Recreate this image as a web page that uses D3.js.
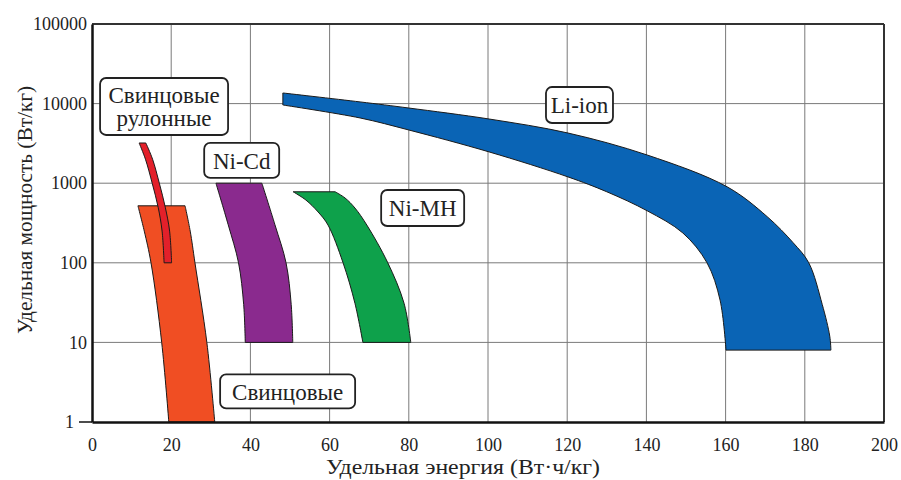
<!DOCTYPE html>
<html>
<head>
<meta charset="utf-8">
<script src="https://cdn.jsdelivr.net/npm/d3@7"></script>
<style>
  html, body { margin: 0; padding: 0; background: #fff; }
  svg text { font-family: "Liberation Serif", "Times New Roman", Tinos, Times, "DejaVu Serif", "Noto Serif", serif; fill: #222; }
</style>
</head>
<body>
<svg id="chart" width="901" height="480"></svg>
<script>
// Ragone plot: energy (Wh/kg) vs power (W/kg), edges of each band as [energy, power]

const xTicks = [0, 20, 40, 60, 80, 100, 120, 140, 160, 180, 200];
const yTicks = [1, 10, 100, 1000, 10000, 100000];

const leadLeft = [[11.6, 520], [13.2, 250], [14.9, 100], [17.6, 10], [19.4, 1]];
const leadRight = [[23.5, 520], [24.8, 250], [26.0, 100], [29.0, 10], [31.0, 1]];

const rolledLeft = [[11.9, 3200], [13.5, 2000], [15.2, 1000], [16.7, 500], [17.7, 250], [18.2, 100]];
const rolledRight = [[13.6, 3200], [15.3, 2000], [17.0, 1000], [18.5, 500], [19.6, 250], [20.1, 100]];

const nicdLeft = [[31.3, 1000], [34.4, 300], [37.0, 100], [38.3, 30], [38.7, 10]];
const nicdRight = [[42.9, 1000], [46.2, 300], [49.0, 100], [50.3, 30], [50.7, 10]];

const nimhLeft = [[50.8, 780], [54.0, 615], [57.1, 435], [59.6, 298], [63.4, 100], [66.4, 31], [68.4, 10]];
const nimhRight = [[61.4, 780], [63.9, 652], [66.4, 488], [69.4, 298], [74.7, 100], [78.8, 31], [80.5, 10]];

const liTop = [[48.2, 13600], [67.7, 10500], [80, 8800], [100.3, 6400], [120.2, 4270], [140.2, 2260],
               [160.4, 900], [170.5, 380], [177, 180], [181, 100], [184.4, 30], [186.3, 12], [186.6, 8]];
const liBottom = [[48.2, 9600], [67.7, 6600], [80, 4660], [100.3, 2470], [120.2, 1200], [130, 780],
                  [140.2, 450], [149.2, 237], [155.3, 100], [158.6, 34], [160.1, 8]];

const bands = [
    { name: 'lead', a: leadLeft, b: leadRight, color: '#f04e23' },
    { name: 'rolled', a: rolledLeft, b: rolledRight, color: '#e3202a' },
    { name: 'nicd', a: nicdLeft, b: nicdRight, color: '#8a2a8e' },
    { name: 'nimh', a: nimhLeft, b: nimhRight, color: '#0ea14b' },
    { name: 'liion', a: liTop, b: liBottom, color: '#0a64b5' }
];

const labels = [
    { lines: ['Свинцовые', 'рулонные'], x: 18.2, y: 9200, w: 128, h: 57 },
    { lines: ['Ni-Cd'], x: 37.8, y: 1930, w: 75, h: 35 },
    { lines: ['Ni-MH'], x: 83.5, y: 488, w: 83, h: 36 },
    { lines: ['Li-ion'], x: 123.1, y: 9600, w: 67, h: 36 },
    { lines: ['Свинцовые'], x: 49.4, y: 2.42, w: 135, h: 34 }
];

const margin = { left: 92, right: 17, top: 24, bottom: 58 };
const width = 901, height = 480;

const svg = d3.select('#chart');

const x = d3.scaleLinear().domain([0, 200]).range([margin.left, width - margin.right]);
const y = d3.scaleLog().domain([1, 100000]).range([height - margin.bottom, margin.top]);

// grid
const grid = svg.append('g').attr('class', 'grid');
grid.selectAll('line.v')
    .data(xTicks.slice(1, -1)).enter().append('line')
    .attr('x1', d => x(d)).attr('x2', d => x(d))
    .attr('y1', y(1)).attr('y2', y(100000))
    .attr('stroke', '#7a7a7a').attr('stroke-width', 1);
grid.selectAll('line.h')
    .data(yTicks.slice(1, -1)).enter().append('line')
    .attr('x1', x(0)).attr('x2', x(200))
    .attr('y1', d => y(d)).attr('y2', d => y(d))
    .attr('stroke', '#7a7a7a').attr('stroke-width', 1);

// bands
const line = d3.line().x(d => x(d[0])).y(d => y(d[1])).curve(d3.curveCatmullRom);

function bandPath(a, b) {
    const first = line(a);
    const second = line(b.slice().reverse()).replace(/^M/, 'L');
    return first + second + 'Z';
}

svg.append('g').attr('class', 'bands').selectAll('path')
    .data(bands).enter().append('path')
    .attr('d', d => bandPath(d.a, d.b))
    .attr('fill', d => d.color)
    .attr('stroke', '#1a1a1a')
    .attr('stroke-width', 1)
    .attr('stroke-linejoin', 'round');

// frame
svg.append('line')
    .attr('x1', x(0)).attr('x2', x(200)).attr('y1', y(100000)).attr('y2', y(100000))
    .attr('stroke', '#333').attr('stroke-width', 2);
svg.append('line')
    .attr('x1', x(200)).attr('x2', x(200)).attr('y1', y(100000)).attr('y2', y(1))
    .attr('stroke', '#333').attr('stroke-width', 2);

// axes
const xAxis = svg.append('g')
    .attr('transform', `translate(0,${y(1)})`)
    .call(d3.axisBottom(x).tickValues(xTicks).tickSize(0).tickPadding(16));
xAxis.select('.domain').attr('stroke', '#111').attr('stroke-width', 2.5);
xAxis.selectAll('text').attr('font-size', '18px').attr('fill', '#222');

const yAxis = svg.append('g')
    .attr('transform', `translate(${x(0)},0)`)
    .call(d3.axisLeft(y).tickValues(yTicks).tickFormat(d3.format('d')).tickSize(0).tickPadding(5));
yAxis.select('.domain').attr('stroke', '#111').attr('stroke-width', 2.5);
yAxis.selectAll('text').attr('font-size', '18px').attr('fill', '#222');
yAxis.selectAll('.tick').filter(d => d === 1).select('text').attr('x', -18);

// little stub at y = 1
svg.append('line')
    .attr('x1', x(0) - 13).attr('x2', x(0)).attr('y1', y(1)).attr('y2', y(1))
    .attr('stroke', '#111').attr('stroke-width', 1.5);

// labels
const lab = svg.append('g').attr('class', 'labels').selectAll('g')
    .data(labels).enter().append('g')
    .attr('transform', d => `translate(${x(d.x)},${y(d.y)})`);

lab.append('rect')
    .attr('x', d => -d.w / 2).attr('y', d => -d.h / 2)
    .attr('width', d => d.w).attr('height', d => d.h)
    .attr('rx', 6).attr('ry', 6)
    .attr('fill', '#fff').attr('stroke', '#222').attr('stroke-width', 1.8);

lab.each(function(d) {
    const g = d3.select(this);
    const lh = 23;
    const y0 = -(d.lines.length - 1) * lh / 2;
    d.lines.forEach((t, i) => {
        g.append('text')
            .attr('text-anchor', 'middle')
            .attr('y', y0 + i * lh)
            .attr('dy', '0.35em')
            .attr('font-size', '23px')
            .text(t);
    });
});

// titles
svg.append('text')
    .attr('x', 463)
    .attr('y', 474)
    .attr('text-anchor', 'middle')
    .attr('font-size', '22px')
    .attr('textLength', 274)
    .attr('lengthAdjust', 'spacingAndGlyphs')
    .text('Удельная энергия (Вт·ч/кг)');

svg.append('text')
    .attr('transform', 'translate(32,210) rotate(-90)')
    .attr('text-anchor', 'middle')
    .attr('font-size', '22px')
    .attr('textLength', 248)
    .attr('lengthAdjust', 'spacingAndGlyphs')
    .text('Удельная мощность (Вт/кг)');
</script>
</body>
</html>
